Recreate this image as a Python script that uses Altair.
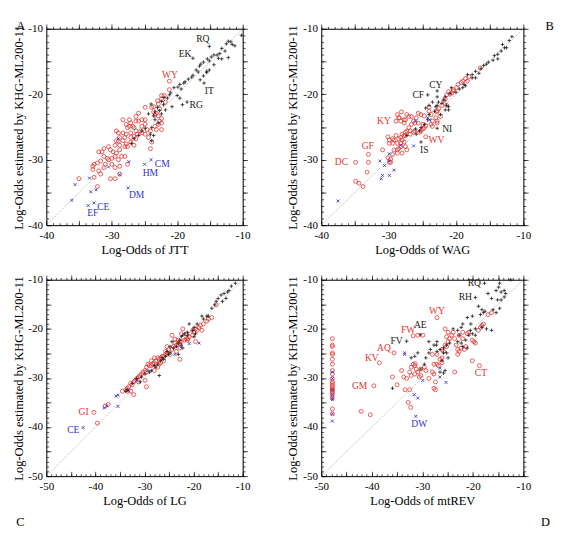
import altair as alt
import pandas as pd

FONT = "Liberation Serif"
BLACK = "#1a1a1a"
RED = "#e8332f"
BLUE = "#3434cc"
PLUS = "M-1,0H1M0,-1V1"
XSHAPE = "M-1,-1L1,1M-1,1L1,-1"

# ---------------- Panel A (JTT) ----------------
A_PLUS = [(-10.2,-11.0),(-11.2,-12.6),(-11.8,-12.0),(-12.2,-11.9),(-12.5,-12.3),(-11.6,-12.4),(-13.2,-13.0),
          (-13.5,-13.8),(-13.9,-14.0),(-14.4,-14.0),(-14.8,-14.3),(-13.2,-14.6),(-13.7,-14.5),(-12.7,-13.4),
          (-12.2,-14.4),(-15.1,-12.7),(-15.1,-14.9),(-15.4,-14.6),(-16.0,-15.1),(-16.4,-15.4),(-15.5,-16.5),
          (-16.6,-15.7),(-16.8,-16.6),(-17.1,-16.3),(-17.6,-14.5),(-17.6,-17.1),(-17.8,-17.4),(-18.3,-17.7),
          (-18.8,-18.1),(-19.0,-18.3),(-19.6,-18.5),(-19.9,-18.9),(-19.4,-19.2),(-20.5,-19.0),(-21.0,-19.8),
          (-21.2,-20.1),(-22.0,-20.5),(-22.4,-21.1),(-22.1,-21.6),(-23.0,-22.0),(-20.0,-20.2),(-19.6,-20.6),
          (-19.2,-21.6),(-18.5,-21.2),(-16.5,-17.8),(-16.0,-17.2),(-15.9,-18.3),(-15.5,-16.7),(-15.1,-16.3),
          (-14.4,-15.5),(-23.4,-23.9),(-23.6,-23.3),(-23.9,-25.1),(-24.4,-23.0),(-25.4,-25.6),(-25.9,-26.3),
          (-26.6,-26.8),(-23.9,-27.1),(-24.9,-25.2),(-22.9,-24.4),(-23.4,-22.7),(-22.4,-23.0),(-24.1,-26.1),
          (-23.6,-26.3),(-27.0,-27.5),(-22.7,-22.5),(-21.8,-22.4),(-24.0,-21.5),(-20.8,-21.9),(-21.5,-20.6)]
A_CIRC = [(-21.2,-18.0),(-22.4,-20.2),(-22.4,-20.7),(-22.9,-21.5),(-23.6,-21.9),(-22.7,-22.2),(-23.2,-22.9),
          (-23.4,-23.2),(-23.6,-22.7),(-22.9,-23.3),(-22.4,-23.7),(-22.7,-24.1),(-22.4,-24.4),(-22.9,-24.6),
          (-23.4,-24.9),(-22.4,-25.4),(-23.2,-25.4),(-23.9,-22.0),(-24.9,-22.0),(-25.9,-22.9),(-24.9,-23.9),
          (-25.9,-24.1),(-26.3,-24.1),(-26.8,-24.9),(-25.4,-24.9),(-24.9,-24.6),(-25.6,-25.6),(-26.3,-25.6),
          (-27.1,-25.9),(-24.6,-25.4),(-24.1,-25.6),(-25.4,-25.9),(-26.1,-26.1),(-26.6,-26.4),(-27.1,-26.6),
          (-27.8,-26.1),(-27.6,-25.1),(-27.1,-24.4),(-27.8,-24.6),(-28.3,-23.9),(-27.3,-23.9),(-28.3,-25.9),
          (-28.8,-26.6),(-28.0,-26.6),(-29.0,-25.9),(-29.3,-27.1),(-28.3,-27.1),(-27.8,-27.6),(-27.1,-27.3),
          (-26.3,-26.8),(-26.6,-27.8),(-27.6,-28.0),(-28.0,-28.0),(-28.8,-27.8),(-28.8,-28.5),(-29.5,-27.8),
          (-29.8,-28.8),(-29.3,-29.0),(-30.2,-28.5),(-30.5,-28.0),(-29.5,-29.5),(-28.5,-29.5),(-28.0,-29.5),
          (-29.0,-30.0),(-30.0,-29.8),(-30.7,-29.8),(-31.2,-29.5),(-31.5,-28.8),(-32.0,-28.8),(-31.2,-28.3),
          (-32.2,-30.5),(-31.7,-30.2),(-31.0,-30.7),(-30.5,-30.0),(-30.0,-30.7),(-29.5,-31.2),(-32.0,-31.7),
          (-32.9,-31.5),(-32.7,-30.7),(-32.9,-31.0),(-31.2,-31.2),(-31.7,-32.2),(-29.5,-32.9),(-30.2,-32.9),
          (-32.2,-34.1),(-32.7,-32.7),(-35.0,-32.9),(-28.8,-32.2),(-28.8,-31.0),(-27.6,-30.7),(-29.0,-27.2),
          (-27.3,-24.9),(-26.6,-25.1),(-26.3,-23.4),(-25.4,-23.9),(-24.1,-28.3),(-23.9,-27.3),(-24.4,-26.6),
          (-24.9,-26.1),(-29.3,-25.6),(-23.0,-21.0),(-22.0,-20.2),(-21.8,-21.2),(-21.2,-19.3)]
A_CROSS = [(-24.0,-30.0),(-25.0,-30.7),(-27.5,-34.3),(-32.7,-36.6),(-33.6,-37.0),(-36.1,-36.2),(-35.6,-33.8),
           (-33.4,-32.8),(-33.2,-34.9),(-32.4,-34.6),(-30.5,-31.1),(-28.8,-32.3),(-27.4,-30.3),(-29.0,-26.8)]
A_LABELS = [("RQ",-16.1,-11.6,"k"),("EK",-18.8,-13.9,"k"),("IT",-15.1,-19.5,"k"),("RG",-17.1,-21.6,"k"),
            ("WY",-21.1,-17.1,"r"),("CM",-22.3,-30.6,"b"),("HM",-24.1,-32.0,"b"),("DM",-26.2,-35.4,"b"),
            ("CE",-31.3,-37.2,"b"),("EF",-32.9,-38.1,"b")]

# ---------------- Panel B (WAG) ----------------
B_PLUS = [(-11.7,-11.2),(-12.1,-11.8),(-13.1,-12.4),(-12.8,-12.9),(-13.3,-13.4),(-13.8,-13.9),(-14.3,-14.1),
          (-14.5,-14.8),(-15.2,-15.1),(-15.5,-15.4),(-15.9,-15.6),(-16.3,-16.1),(-17.1,-16.5),(-17.6,-17.0),
          (-18.3,-17.0),(-17.6,-17.5),(-17.1,-17.5),(-18.6,-18.7),(-18.8,-18.5),(-19.5,-19.2),(-20.0,-19.7),
          (-20.7,-19.0),(-20.9,-19.9),(-21.6,-20.4),(-21.8,-20.9),(-22.1,-21.4),(-22.8,-21.7),(-23.0,-21.9),
          (-23.2,-22.6),(-22.3,-23.1),(-21.6,-22.4),(-21.1,-21.9),(-22.8,-20.4),(-22.8,-19.5),(-24.2,-20.1),
          (-22.8,-25.2),(-25.2,-27.3),(-24.0,-23.1),(-24.2,-23.9),(-24.7,-24.6),(-25.2,-25.1),(-25.4,-25.6),
          (-25.9,-26.1),(-27.3,-26.3),(-24.5,-22.1),(-24.0,-21.7),(-23.5,-21.2),(-22.6,-21.2),(-21.4,-21.7),
          (-21.1,-22.4),(-12.5,-12.9),(-13.8,-14.6),(-16.6,-16.8),(-19.0,-19.0),(-26.0,-25.3)]
B_CIRC = [(-16.4,-16.0),(-18.1,-17.3),(-18.6,-17.6),(-19.0,-18.0),(-19.2,-18.2),(-19.7,-18.5),(-19.9,-19.0),
          (-20.4,-19.3),(-20.4,-19.5),(-20.6,-19.8),(-20.9,-20.0),(-21.4,-20.1),(-21.1,-19.6),(-21.6,-20.7),
          (-21.8,-21.0),(-21.4,-21.7),(-22.1,-21.7),(-22.6,-22.2),(-22.8,-22.7),(-22.3,-23.4),(-23.0,-23.6),
          (-22.8,-24.4),(-23.5,-24.1),(-23.7,-24.6),(-24.5,-24.8),(-24.7,-25.1),(-24.9,-25.3),(-25.2,-25.6),
          (-25.4,-25.8),(-24.9,-24.6),(-25.6,-24.4),(-24.0,-22.6),(-23.7,-23.1),(-24.7,-23.3),(-25.2,-23.1),
          (-26.1,-24.4),(-26.6,-24.6),(-27.0,-25.1),(-26.8,-25.6),(-27.3,-25.6),(-27.5,-25.8),(-28.0,-26.1),
          (-27.7,-26.3),(-28.2,-26.6),(-28.5,-26.8),(-28.9,-26.3),(-29.2,-27.0),(-29.4,-27.5),(-28.7,-27.5),
          (-28.2,-27.5),(-28.0,-27.0),(-27.7,-27.3),(-27.5,-26.3),(-26.8,-26.1),(-26.3,-25.8),(-26.1,-25.6),
          (-25.9,-23.6),(-25.6,-22.9),(-26.3,-24.1),(-26.6,-23.4),(-27.0,-23.4),(-27.5,-23.9),(-27.3,-23.1),
          (-27.7,-23.9),(-28.2,-24.1),(-28.5,-23.6),(-27.7,-24.4),(-29.4,-26.8),(-29.9,-27.0),(-30.1,-26.5),
          (-29.9,-27.5),(-29.2,-28.5),(-28.7,-28.5),(-28.5,-28.3),(-28.2,-28.0),(-27.5,-28.0),(-27.3,-28.5),
          (-28.0,-29.0),(-28.7,-29.0),(-29.4,-29.2),(-29.7,-29.9),(-29.9,-30.4),(-29.7,-30.4),(-30.1,-29.7),
          (-30.9,-28.5),(-33.0,-30.4),(-33.2,-31.9),(-34.4,-33.6),(-34.9,-33.3),(-33.8,-34.1),(-34.9,-30.4),
          (-33.0,-29.2),(-28.9,-24.1),(-24.5,-26.5),(-28.7,-23.1),(-28.1,-22.7),(-28.4,-23.6),(-24.0,-22.0),
          (-23.5,-24.9),(-22.8,-24.1),(-22.8,-22.5),(-18.3,-18.0)]
B_CROSS = [(-37.5,-36.3),(-31.3,-30.2),(-30.6,-30.9),(-29.9,-30.2),(-29.9,-29.1),(-29.2,-31.6),(-30.9,-32.4),
           (-31.1,-32.9),(-29.9,-32.4),(-26.0,-24.1),(-24.2,-23.6),(-23.9,-23.9),(-28.2,-27.8),(-26.3,-27.9)]
B_LABELS = [("CY",-23.0,-18.6,"k"),("CF",-25.6,-20.1,"k"),("NI",-21.3,-25.4,"k"),("IS",-24.7,-28.6,"k"),
            ("KY",-30.7,-24.1,"r"),("GF",-33.1,-28.0,"r"),("DC",-37.0,-30.4,"r"),("WV",-22.9,-27.0,"r")]

# ---------------- Panel C (LG) ----------------
C_PLUS = [(-11.5,-10.7),(-12.3,-11.3),(-12.8,-12.2),(-13.8,-12.8),(-14.4,-13.1),(-15.0,-13.8),(-15.4,-14.4),
          (-14.1,-14.4),(-13.4,-13.8),(-16.3,-15.8),(-17.0,-17.4),(-18.0,-18.0),(-19.3,-19.0),(-19.9,-19.7),
          (-20.2,-20.3),(-21.2,-20.7),(-22.2,-21.3),(-22.5,-21.6),(-22.8,-22.3),(-23.1,-22.9),(-23.5,-23.6),
          (-24.1,-23.9),(-24.8,-24.9),(-25.1,-25.2),(-25.7,-25.6),(-26.1,-26.2),(-26.7,-26.5),(-27.3,-27.2),
          (-27.7,-27.8),(-27.0,-29.5),(-28.0,-27.5),(-28.6,-28.5),(-29.0,-28.8),(-29.9,-29.2),(-30.6,-29.8),
          (-31.6,-30.1),(-30.9,-30.8),(-32.5,-31.1),(-33.5,-32.4),(-33.8,-32.7),(-20.9,-19.0),(-19.6,-21.0),
          (-19.9,-21.6),(-22.5,-23.3),(-22.2,-23.9),(-23.1,-25.2),(-24.8,-23.6),(-24.4,-22.6),(-25.4,-24.6),
          (-18.3,-17.4),(-17.3,-17.4),(-15.7,-15.1),(-13.1,-12.5),(-21.2,-21.3),(-21.8,-21.0),(-26.4,-25.9)]
C_CIRC = [(-15.4,-15.1),(-16.3,-17.7),(-17.0,-18.0),(-17.3,-18.4),(-18.0,-19.0),(-18.6,-19.3),(-18.9,-19.7),
          (-19.3,-20.3),(-19.6,-20.0),(-19.9,-20.7),(-20.2,-21.3),(-20.9,-21.6),(-21.2,-22.0),(-21.5,-22.0),
          (-21.8,-22.3),(-22.5,-22.6),(-22.8,-22.6),(-23.1,-22.9),(-23.5,-23.3),(-23.8,-22.9),(-24.1,-23.6),
          (-24.4,-21.3),(-23.8,-22.1),(-23.1,-22.3),(-22.5,-21.0),(-21.5,-21.0),(-25.1,-24.2),(-25.4,-24.9),
          (-25.7,-25.2),(-26.1,-25.6),(-26.4,-25.6),(-26.7,-25.9),(-27.0,-26.2),(-27.3,-25.9),(-27.7,-26.5),
          (-28.0,-26.9),(-28.3,-27.2),(-28.6,-27.5),(-29.0,-27.5),(-29.3,-27.2),(-29.6,-27.8),(-29.9,-28.5),
          (-30.3,-28.8),(-30.6,-29.2),(-30.9,-29.5),(-31.2,-29.8),(-31.6,-30.1),(-31.9,-30.5),(-32.2,-30.8),
          (-32.5,-31.4),(-32.8,-31.1),(-33.2,-31.8),(-33.5,-32.1),(-33.8,-32.4),(-34.5,-32.7),(-29.9,-30.5),
          (-29.6,-31.8),(-24.8,-25.2),(-25.4,-23.6),(-22.8,-23.9),(-22.8,-26.2),(-21.2,-22.3),(-19.6,-22.6),
          (-18.3,-20.3),(-20.2,-20.3),(-22.2,-20.0),(-27.0,-27.2),(-28.0,-28.5),(-31.2,-30.8),(-32.8,-32.7),
          (-32.2,-33.4),(-38.0,-35.7),(-37.4,-35.4),(-40.3,-37.0),(-39.6,-39.2),(-33.5,-32.7),(-27.3,-27.8),
          (-26.7,-26.9),(-26.1,-26.5),(-25.7,-24.6),(-24.4,-24.2),(-23.5,-24.6),(-28.0,-25.9),(-28.6,-26.5),
          (-29.6,-28.8)]
C_CROSS = [(-42.5,-40.1),(-35.8,-33.7),(-35.4,-33.5),(-35.4,-35.8),(-37.7,-35.7),(-38.2,-36.1),(-33.2,-32.6),
           (-31.6,-30.5),(-23.8,-25.2),(-22.5,-23.6),(-20.9,-23.0),(-18.9,-22.9),(-29.3,-28.5)]
C_LABELS = [("GI",-42.4,-37.0,"r"),("CE",-44.5,-40.7,"b")]

# ---------------- Panel D (mtREV) ----------------
D_PLUS = [(-17.7,-10.7),(-19.5,-13.6),(-30.4,-21.2),(-33.1,-22.5),(-12.5,-10.0),(-14.9,-11.5),(-14.7,-10.7),
          (-15.4,-12.2),(-14.4,-12.5),(-13.8,-12.2),(-13.5,-12.8),(-14.4,-14.1),(-15.1,-14.1),(-13.8,-13.5),
          (-16.3,-13.8),(-17.0,-12.8),(-18.2,-16.1),(-17.9,-16.7),(-17.6,-16.4),(-18.5,-17.1),(-18.9,-15.4),
          (-16.0,-16.1),(-14.7,-15.8),(-15.4,-16.7),(-17.3,-20.0),(-16.3,-20.3),(-18.2,-19.7),(-20.1,-17.4),
          (-21.1,-17.7),(-20.4,-19.0),(-22.0,-19.0),(-22.3,-19.7),(-23.0,-20.3),(-23.9,-20.0),(-22.7,-21.3),
          (-23.0,-22.6),(-20.5,-20.3),(-20.1,-21.0),(-20.8,-21.3),(-19.5,-21.3),(-21.4,-22.3),(-22.3,-22.9),
          (-24.6,-22.9),(-25.2,-23.3),(-25.8,-23.9),(-26.5,-24.2),(-27.1,-24.6),(-25.8,-24.9),(-25.2,-24.9),
          (-24.9,-25.9),(-26.1,-26.5),(-27.7,-23.3),(-27.1,-22.6),(-28.4,-24.2),(-28.7,-24.9),(-29.3,-25.9),
          (-29.6,-27.2),(-30.9,-24.9),(-31.5,-25.6),(-32.2,-25.9),(-25.8,-29.0),(-26.5,-28.8),(-25.5,-28.5),
          (-22.0,-23.6),(-21.1,-23.9),(-35.9,-32.1),(-28.7,-22.6),(-27.2,-23.3),(-30.3,-28.2),(-19.5,-20.0)]
D_CIRC = [(-47.8,-22.0),(-47.8,-23.3),(-47.8,-23.6),(-47.8,-24.9),(-47.8,-25.2),(-47.8,-26.2),(-47.8,-27.2),
          (-47.8,-28.5),(-47.8,-29.2),(-47.8,-30.1),(-47.8,-30.8),(-47.8,-31.1),(-47.8,-31.5),(-47.8,-31.8),
          (-47.8,-32.4),(-47.8,-32.7),(-47.8,-33.4),(-47.8,-34.1),(-47.8,-36.3),(-47.8,-37.3),(-47.8,-33.0),
          (-47.8,-32.2),(-27.1,-17.7),(-31.8,-21.4),(-35.6,-24.9),(-38.5,-26.9),(-39.6,-31.6),(-18.7,-27.5),
          (-42.1,-36.8),(-40.3,-37.5),(-35.9,-29.8),(-34.1,-28.5),(-33.7,-29.8),(-33.1,-30.1),(-35.0,-31.4),
          (-33.4,-32.4),(-32.5,-32.4),(-32.8,-35.0),(-32.3,-36.0),(-31.8,-27.2),(-32.2,-27.8),(-31.5,-27.5),
          (-31.2,-28.2),(-30.9,-28.8),(-30.3,-28.2),(-29.6,-27.8),(-29.3,-28.5),(-30.3,-29.5),(-30.6,-29.8),
          (-31.5,-29.2),(-32.5,-28.8),(-32.2,-29.5),(-31.4,-27.1),(-28.0,-28.8),(-27.7,-29.2),(-27.4,-30.8),
          (-27.7,-32.1),(-27.4,-32.4),(-27.1,-27.2),(-26.8,-27.5),(-26.5,-26.2),(-26.1,-25.9),(-27.1,-25.2),
          (-26.1,-24.2),(-25.8,-24.6),(-25.5,-23.3),(-25.2,-23.6),(-24.9,-22.6),(-24.6,-22.0),(-25.2,-21.6),
          (-25.5,-20.0),(-23.9,-20.7),(-24.9,-20.7),(-24.2,-21.3),(-23.6,-22.0),(-23.3,-23.3),(-23.0,-24.2),
          (-22.7,-24.6),(-22.3,-23.9),(-23.0,-25.2),(-21.7,-24.2),(-21.4,-23.6),(-22.0,-22.0),(-21.1,-21.0),
          (-20.8,-20.7),(-20.1,-22.3),(-19.8,-22.6),(-19.5,-22.9),(-18.9,-20.3),(-18.5,-19.7),(-18.2,-19.3),
          (-17.9,-19.0),(-17.0,-17.1),(-16.3,-16.7),(-20.1,-26.5),(-23.6,-28.8),(-26.1,-26.9),(-22.7,-21.3),
          (-22.0,-20.7),(-28.0,-25.2),(-30.9,-21.3),(-29.9,-21.3),(-27.7,-27.2),(-28.7,-30.1)]
D_CROSS = [(-47.8,-28.8),(-47.8,-30.1),(-47.8,-32.4),(-47.8,-33.4),(-47.8,-34.1),(-47.8,-34.4),(-47.8,-37.3),
           (-47.8,-38.8),(-31.3,-37.8),(-33.5,-24.9),(-33.5,-25.2),(-31.6,-33.4),(-30.9,-34.1),(-29.9,-30.5),
           (-26.5,-28.0),(-26.5,-29.8),(-25.3,-30.9)]
D_LABELS = [("RQ",-19.7,-10.7,"k"),("RH",-21.5,-13.6,"k"),("AE",-30.4,-19.2,"k"),("FV",-35.1,-22.4,"k"),
            ("WY",-27.1,-16.3,"r"),("FW",-32.8,-20.2,"r"),("AQ",-37.6,-24.0,"r"),("KV",-40.0,-25.9,"r"),
            ("GM",-42.4,-31.6,"r"),("CT",-18.4,-29.0,"r"),("DW",-30.6,-39.4,"b")]

Y_TITLE = "Log-Odds estimated by KHG-ML200-11"


def pts(lst):
    return pd.DataFrame(lst, columns=["x", "y"])


def panel(plus, circ, cross, labels, lo, xtitle, width, letter, letter_orient, letter_anchor, letter_dx,
          letter_offset):
    dom = [lo, -10]
    xs = alt.Scale(domain=dom, nice=False, zero=False)
    ys = alt.Scale(domain=dom, nice=False, zero=False)
    label_vals = list(range(lo, -9, 10))
    major = list(range(lo, -9, 5))
    minor = list(range(lo, -9, 1))

    def lab_axis(orient, title, pad):
        return alt.Axis(orient=orient, values=label_vals, ticks=False,
                        labelExpr="'' + datum.value", labelFont=FONT, labelFontSize=11.5,
                        labelColor="black", labelPadding=pad, title=title, titleFont=FONT,
                        titleFontSize=13, titleFontWeight="normal", titleColor="black",
                        titlePadding=3, grid=False, domain=True, domainColor="black",
                        domainWidth=1, labelFlush=False)

    def tick_axis(orient, vals, size, inward, domain=False):
        kw = dict(orient=orient, values=vals, labels=False, tickSize=size, tickColor="black",
                  tickWidth=0.7, grid=False, domain=domain, title=None)
        if domain:
            kw["domainColor"] = "black"
            kw["domainWidth"] = 1
        if inward:
            kw["offset"] = -size
        return alt.Axis(**kw)

    l1 = alt.Chart(pts(plus)).mark_point(shape=PLUS, size=14, color=BLACK, strokeWidth=0.8, filled=False,
                                         opacity=1).encode(
        x=alt.X("x:Q", scale=xs, axis=lab_axis("bottom", xtitle, 5)),
        y=alt.Y("y:Q", scale=ys, axis=lab_axis("left", Y_TITLE, 4)))
    l2 = alt.Chart(pts(circ)).mark_point(shape="circle", size=17, color=RED, strokeWidth=0.8, filled=False,
                                         opacity=1).encode(
        x=alt.X("x:Q", scale=xs, axis=tick_axis("bottom", major, 5, True)),
        y=alt.Y("y:Q", scale=ys, axis=tick_axis("left", major, 5, True)))
    l3 = alt.Chart(pts(cross)).mark_point(shape=XSHAPE, size=9, color=BLUE, strokeWidth=0.9, filled=False,
                                          opacity=1).encode(
        x=alt.X("x:Q", scale=xs, axis=tick_axis("bottom", minor, 2.5, True)),
        y=alt.Y("y:Q", scale=ys, axis=tick_axis("left", minor, 2.5, True)))
    diag = pd.DataFrame({"x": dom, "y": dom})
    l4 = alt.Chart(diag).mark_line(color="#9a9a9a", strokeWidth=0.7, strokeDash=[1.2, 1.2]).encode(
        x=alt.X("x:Q", scale=xs, axis=tick_axis("top", major, 5, False, True)),
        y=alt.Y("y:Q", scale=ys, axis=tick_axis("right", major, 5, False, True)))
    lab = pd.DataFrame(labels, columns=["t", "x", "y", "c"])
    l5 = alt.Chart(lab).mark_text(font=FONT, fontSize=10).encode(
        x=alt.X("x:Q", scale=xs, axis=tick_axis("top", minor, 2.5, False)),
        y=alt.Y("y:Q", scale=ys, axis=tick_axis("right", minor, 2.5, False)),
        text="t:N",
        color=alt.Color("c:N", scale=alt.Scale(domain=["k", "r", "b"], range=[BLACK, RED, BLUE]), legend=None))
    ch = alt.layer(l4, l2, l1, l3, l5).resolve_axis(x="independent", y="independent").properties(
        width=width, height=205,
        title=alt.TitleParams(letter, orient=letter_orient, anchor=letter_anchor, frame="bounds",
                              font=FONT, fontSize=13, fontWeight="normal", color="black",
                              dx=letter_dx, offset=letter_offset))
    return ch


A = panel(A_PLUS, A_CIRC, A_CROSS, A_LABELS, -40, "Log-Odds of JTT", 205, "A", "top", "start", 4, -10)
B = panel(B_PLUS, B_CIRC, B_CROSS, B_LABELS, -40, "Log-Odds of WAG", 211, "B", "top", "end", 24, -10)
C = panel(C_PLUS, C_CIRC, C_CROSS, C_LABELS, -50, "Log-Odds of LG", 205, "C", "bottom", "start", 4, 10)
D = panel(D_PLUS, D_CIRC, D_CROSS, D_LABELS, -50, "Log-Odds of mtREV", 211, "D", "bottom", "end", 20, 10)

chart = alt.vconcat(
    alt.hconcat(A, B, spacing=37),
    alt.hconcat(C, D, spacing=37),
    spacing=17,
    padding={"left": 4, "top": 0, "right": 0, "bottom": 0},
).configure_view(strokeWidth=0).configure(background="white")

chart.save("out.html", embed_options={"renderer": "svg", "actions": False})
